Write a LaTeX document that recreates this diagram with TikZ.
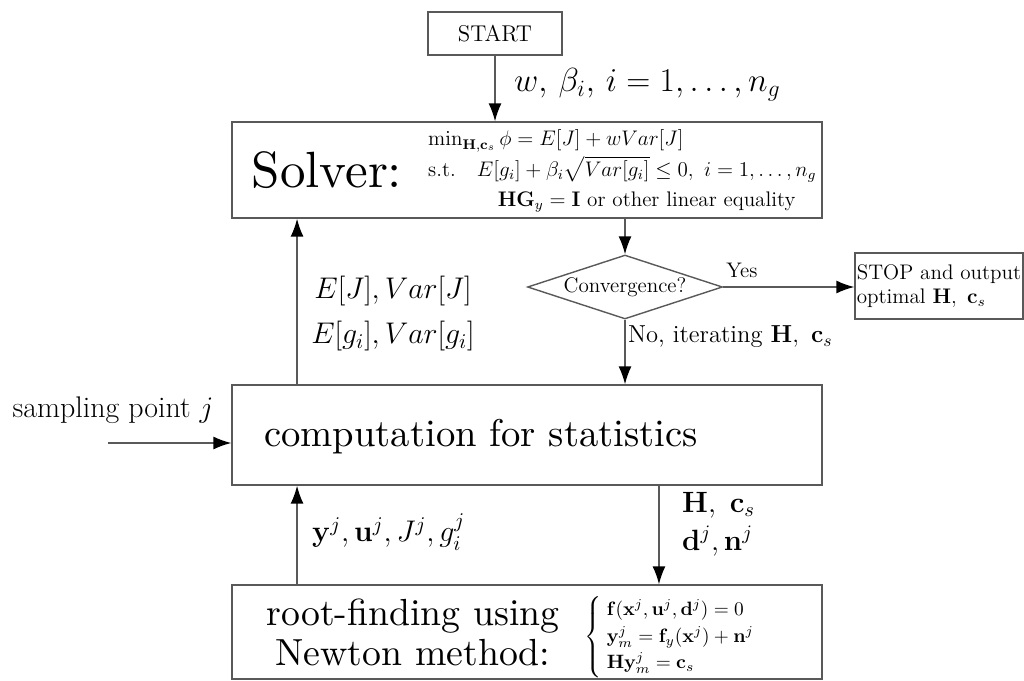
\RequirePackage{fix-cm}
\documentclass[tikz,border=0pt]{standalone}
\usepackage{amsmath}
\usepackage{amssymb}
\usepackage{tikz}
\usetikzlibrary{arrows.meta,positioning,shapes.geometric}

\begin{document}
\begin{tikzpicture}[
    x=0.02cm, y=-0.02cm,
    line/.style={draw=black!65, line width=0.8pt},
    box/.style={rectangle, line, inner sep=0pt, align=center},
    test/.style={diamond, line, inner sep=0pt, aspect=3},
    arrow/.style={line, -{Latex[length=0.36cm, width=0.26cm, color=black]}},
    small/.style={font=\fontsize{12}{14}\selectfont},
    label/.style={font=\fontsize{17}{25.6}\selectfont, align=left},
    big/.style={font=\fontsize{10}{10.6}\selectfont, align=center}
]
\useasboundingbox (0,0) rectangle (1024,680);

% Boxes
\node[box, minimum width=2.68cm, minimum height=0.86cm, font=\fontsize{13}{15}\selectfont] (start) at (495,33.5) {START};
\node[box, minimum width=11.8cm, minimum height=1.92cm] (solver) at (527,170) {};
\node[test, minimum width=3.9cm, minimum height=1.28cm, small] (check) at (625,287) {Convergence?};
\node[box, minimum width=3.36cm, minimum height=1.32cm, small, align=left] (stop) at (939,286) {STOP and output\\optimal $\mathbf{H},\ \mathbf{c}_s$};
\node[box, minimum width=11.8cm, minimum height=2cm] (stats) at (527,435) {};
\node[box, minimum width=11.8cm, minimum height=1.88cm] (root) at (527,632) {};

% Box texts
\node[big, scale=2.9] (solvername) at (327,170) {Solver:};
\node[small, anchor=west] (solvermath) at (422,170) {\renewcommand{\arraystretch}{1.22}$\begin{array}{@{}l@{\quad}c@{}}
  \multicolumn{2}{@{}l}{\min_{\mathbf{H},\mathbf{c}_s}\phi = E[J]+wVar[J]}\\
  \text{s.t.} & E[g_i]+\beta_i\sqrt{Var[g_i]}\le 0,\ i=1,\ldots,n_g\\
  & \mathbf{H}\mathbf{G}_y=\mathbf{I}\text{ or other linear equality}
\end{array}$};
\node[big, scale=2.2] (statsname) at (481,437) {computation for statistics};
\node[big, scale=2.15] (rootname) at (413,632) {root-finding using\\Newton method:};
\node[font=\fontsize{11}{13.6}\selectfont, anchor=west] (rooteqs) at (578,637) {\renewcommand{\arraystretch}{1.1}$\left\{\;\begin{array}{@{}l@{}}
  \mathbf{f}(\mathbf{x}^j,\mathbf{u}^j,\mathbf{d}^j)=0\\
  \mathbf{y}_m^j=\mathbf{f}_y(\mathbf{x}^j)+\mathbf{n}^j\\
  \mathbf{H}\mathbf{y}_m^j=\mathbf{c}_s
\end{array}\right.$};

% Flow
\draw[arrow] (start.south) -- (start.south |- solver.north);
\draw[arrow] (solver.south -| check) -- (check.north);
\draw[arrow] (check.east) -- (check.east -| stop.west);
\draw[arrow] (check.south) -- (check.south |- stats.north);
\draw[arrow] ([xshift=-4.6cm]stats.north) -- ([xshift=-4.6cm]solver.south);
\draw[arrow] ([xshift=-4.6cm]root.north) -- ([xshift=-4.6cm]stats.south);
\draw[arrow] ([xshift=2.64cm]stats.south) -- ([xshift=2.64cm]root.north);
\coordinate (sample) at (108,443);
\draw[arrow] (sample) -- (sample -| stats.west);

% Labels
\node[font=\fontsize{19}{22}\selectfont, anchor=west] (wlabel) at (508,85) {$w,\,\beta_i,\,i=1,\ldots,n_g$};
\node[label, align=center] (momlabel) at (393,314) {$E[J],Var[J]$\\$E[g_i],Var[g_i]$};
\node[small] (yeslabel) at (742,270) {Yes};
\node[font=\fontsize{14}{17}\selectfont, anchor=west, inner sep=1pt] (nolabel) at (626,337) {No, iterating $\mathbf{H},\ \mathbf{c}_s$};
\node[font=\fontsize{17}{19}\selectfont] (samplabel) at (113,410) {sampling point $j$};
\node[label, anchor=west] (inlabel) at (306,532) {$\mathbf{y}^j,\mathbf{u}^j,J^j,g_i^j$};
\node[font=\fontsize{16.7}{21.6}\selectfont, align=left, anchor=west] (outlabel) at (676,524) {$\mathbf{H},\ \mathbf{c}_s$\\$\mathbf{d}^j,\mathbf{n}^j$};

\end{tikzpicture}
\end{document}
